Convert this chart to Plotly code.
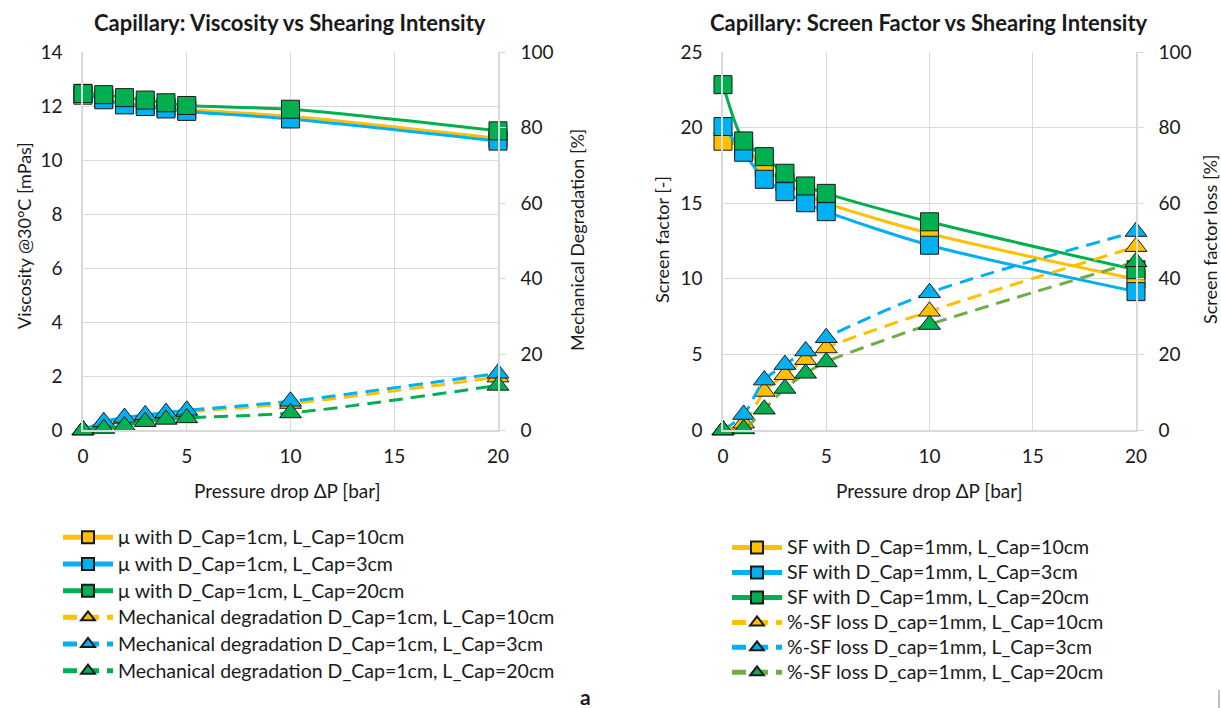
import plotly.graph_objects as go

# ---------------- data ----------------
pressure = [0, 1, 2, 3, 4, 5, 10, 20]

visc_L10 = [12.40, 12.28, 12.12, 12.04, 11.96, 11.87, 11.62, 10.80]
visc_L3 = [12.47, 12.23, 12.04, 11.98, 11.89, 11.80, 11.52, 10.70]
visc_L20 = [12.46, 12.42, 12.31, 12.22, 12.12, 12.02, 11.88, 11.08]

degr_L10 = [0, 1.8, 2.9, 3.6, 4.2, 4.8, 7.0, 14.0]
degr_L3 = [0, 2.2, 3.3, 4.0, 4.6, 5.2, 7.6, 15.0]
degr_L20 = [0, 0.4, 1.1, 2.2, 2.8, 3.2, 4.5, 11.8]

sf_L10 = [19.10, 18.70, 17.35, 16.40, 15.60, 15.00, 13.00, 9.97]
sf_L3 = [20.07, 18.37, 16.58, 15.76, 15.03, 14.44, 12.22, 9.15]
sf_L20 = [22.84, 19.12, 18.08, 16.98, 16.14, 15.65, 13.77, 10.60]

sfloss_L10 = [0, 1.8, 10.2, 14.6, 18.6, 21.7, 31.4, 48.5]
sfloss_L3 = [0, 4.1, 13.2, 17.3, 20.9, 24.4, 36.3, 52.5]
sfloss_L20 = [0, 0.3, 5.5, 11.0, 15.0, 18.0, 27.9, 44.5]

left_names = ["μ with D_Cap=1cm, L_Cap=10cm", "μ with D_Cap=1cm, L_Cap=3cm",
              "μ with D_Cap=1cm, L_Cap=20cm",
              "Mechanical degradation D_Cap=1cm, L_Cap=10cm",
              "Mechanical degradation D_Cap=1cm, L_Cap=3cm",
              "Mechanical degradation D_Cap=1cm, L_Cap=20cm"]
right_names = ["SF with D_Cap=1mm, L_Cap=10cm", "SF with D_Cap=1mm, L_Cap=3cm",
               "SF with D_Cap=1mm, L_Cap=20cm",
               "%-SF loss D_cap=1mm, L_Cap=10cm",
               "%-SF loss D_cap=1mm, L_Cap=3cm",
               "%-SF loss D_cap=1mm, L_Cap=20cm"]

YEL, BLU, GRN, LGRN = "#FFC000", "#00B0F0", "#00B050", "#70AD47"
FONT = "Lato"
TXT = "#1a1a1a"
GRID = "#D9D9D9"
W, H = 1221, 708
LEGTXT = 19.5

fig = go.Figure()
_count = [0]


def add(y, name, color, symbol, xa, ya, legend, dash="solid", mcolor=None):
    _count[0] += 1
    fig.add_trace(go.Scatter(
        x=pressure, y=y, mode="lines+markers",
        name=f"<span style='font-size:{LEGTXT}px'>{name}</span>",
        legendgroup=f"g{_count[0]}",
        line=dict(color=color, width=3, dash=dash, shape="spline", smoothing=0.8),
        marker=dict(symbol=symbol, size=18 if symbol == "square" else 19,
                    color=mcolor or color, line=dict(color="#1a1a1a", width=1)),
        xaxis=xa, yaxis=ya, legend=legend, cliponaxis=False))


DASH = "14px,8px"
add(visc_L10, left_names[0], YEL, "square", "x", "y", "legend")
add(visc_L3, left_names[1], BLU, "square", "x", "y", "legend")
add(visc_L20, left_names[2], GRN, "square", "x", "y", "legend")
add(degr_L10, left_names[3], YEL, "triangle-up", "x", "y2", "legend", DASH)
add(degr_L3, left_names[4], BLU, "triangle-up", "x", "y2", "legend", DASH)
add(degr_L20, left_names[5], GRN, "triangle-up", "x", "y2", "legend", DASH)

add(sf_L10, right_names[0], YEL, "square", "x2", "y3", "legend2")
add(sf_L3, right_names[1], BLU, "square", "x2", "y3", "legend2")
add(sf_L20, right_names[2], GRN, "square", "x2", "y3", "legend2")
add(sfloss_L10, right_names[3], YEL, "triangle-up", "x2", "y4", "legend2", DASH)
add(sfloss_L3, right_names[4], BLU, "triangle-up", "x2", "y4", "legend2", DASH)
add(sfloss_L20, right_names[5], LGRN, "triangle-up", "x2", "y4", "legend2", DASH, mcolor=GRN)

ybot, ytop = 1 - 430 / H, 1 - 52 / H
L0, L1 = 83 / W, 498 / W
R0, R1 = 723 / W, 1136 / W

tickfont = dict(family=FONT, size=19, color=TXT)
xcommon = dict(range=[0, 20], dtick=5, showgrid=True, gridcolor=GRID, gridwidth=1,
               showline=True, linecolor=GRID, linewidth=1.5, zeroline=False,
               ticks="", tickfont=tickfont, ticklabelstandoff=8)
ycommon = dict(showgrid=True, gridcolor=GRID, gridwidth=1, zeroline=False,
               showline=True, linecolor=GRID, linewidth=1.5, ticks="",
               tickfont=tickfont, ticklabelstandoff=15, domain=[ybot, ytop])
y2common = dict(side="right", range=[0, 100], dtick=20,
                showgrid=False, zeroline=False, showline=True, linecolor=GRID,
                linewidth=1.5, ticks="outside", ticklen=6, tickcolor=GRID,
                tickfont=tickfont, ticklabelstandoff=11)

fig.update_layout(
    width=W, height=H, margin=dict(l=0, r=0, t=0, b=0, autoexpand=False),
    paper_bgcolor="white", plot_bgcolor="white",
    font=dict(family=FONT, color=TXT),
    xaxis=dict(domain=[L0, L1], anchor="y", **xcommon),
    yaxis=dict(range=[0, 14], dtick=2, anchor="x", **ycommon),
    yaxis2=dict(overlaying="y", anchor="x", **y2common),
    xaxis2=dict(domain=[R0, R1], anchor="y3", **xcommon),
    yaxis3=dict(range=[0, 25], dtick=5, anchor="x2", **ycommon),
    yaxis4=dict(overlaying="y3", anchor="x2", **y2common),
    legend=dict(x=58 / W, y=1 - 519 / H, xanchor="left", yanchor="top",
                font=dict(family=FONT, size=18.2, color=TXT), tracegroupgap=0,
                itemsizing="constant", bgcolor="rgba(0,0,0,0)", itemwidth=50),
    legend2=dict(x=727 / W, y=1 - 530 / H, xanchor="left", yanchor="top",
                 font=dict(family=FONT, size=16.9, color=TXT), tracegroupgap=0,
                 itemsizing="constant", bgcolor="rgba(0,0,0,0)", itemwidth=50),
)

ann = []


def txt(x, y, text, size=17, bold=False, angle=0):
    ann.append(dict(x=x / W, y=1 - y / H, xref="paper", yref="paper",
                    text=f"<b>{text}</b>" if bold else text, showarrow=False,
                    textangle=angle, xanchor="center", yanchor="middle",
                    font=dict(family=FONT, size=size, color=TXT)))


txt(290, 23, "Capillary: Viscosity vs Shearing Intensity", 22, True)
txt(929, 23, "Capillary: Screen Factor vs Shearing Intensity", 22, True)
txt(287, 490, "Pressure drop ΔP [bar]", 19)
txt(929, 490, "Pressure drop ΔP [bar]", 19)
txt(24, 236, "Viscosity @30°C [mPas]", 18, angle=-90)
txt(577, 240, "Mechanical Degradation [%]", 18, angle=-90)
txt(662, 240, "Screen factor [-]", 18, angle=-90)
txt(1210, 240, "Screen factor loss [%]", 18, angle=-90)
txt(585, 696, "a", 21, True)
fig.update_layout(annotations=ann)

fig.add_shape(type="line", xref="paper", yref="paper", x0=1219 / W, x1=1219 / W,
              y0=0, y1=1 - 690 / H, line=dict(color="#7f7f7f", width=1))

fig.write_html("out.html", config={"displayModeBar": False},
               post_script="document.body.style.margin='0';document.body.style.overflow='hidden';")
